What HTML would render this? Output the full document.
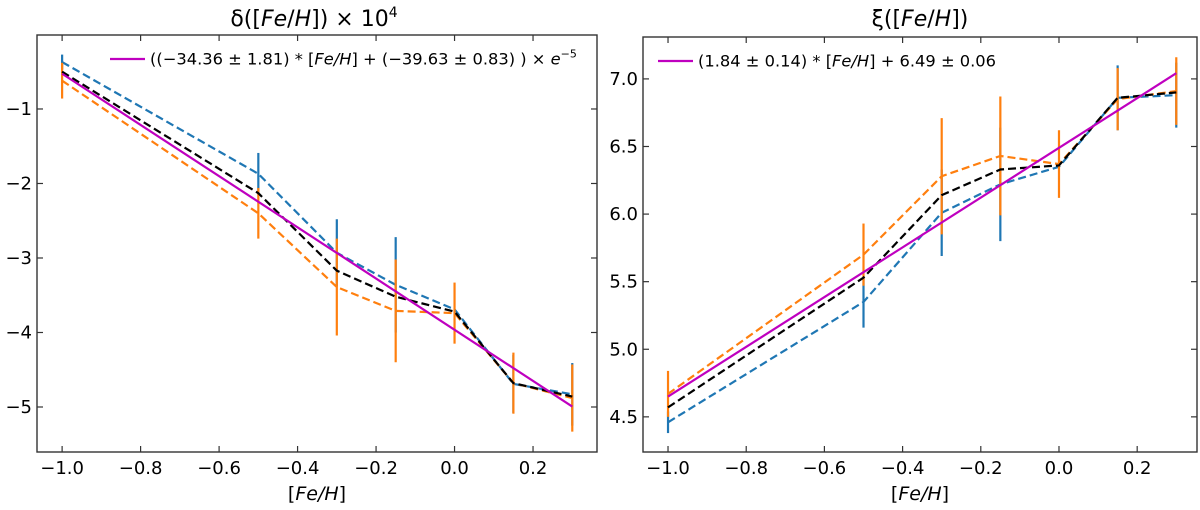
<!DOCTYPE html>
<html><head><meta charset="utf-8"><style>
html,body{margin:0;padding:0;background:#fff;}
svg text{font-family:"DejaVu Sans","Liberation Sans",sans-serif;}
</style></head><body>
<svg id="chart" width="1200" height="505" xmlns="http://www.w3.org/2000/svg"></svg>
<script>
const feh = [-1.0, -0.5, -0.3, -0.15, 0.0, 0.15, 0.3];
const xTicks = [-1.0, -0.8, -0.6, -0.4, -0.2, 0.0, 0.2];
const xTickLabels = ["\u22121.0","\u22120.8","\u22120.6","\u22120.4","\u22120.2","0.0","0.2"];
// Left panel: delta
const deltaBlue = [-0.37, -1.87, -2.93, -3.36, -3.69, -4.69, -4.83];
const deltaBlueErr = [0.10, 0.28, 0.45, 0.64, 0.0, 0.39, 0.42];
const deltaOrange = [-0.62, -2.40, -3.39, -3.71, -3.74, -4.68, -4.88];
const deltaOrangeErr = [0.24, 0.34, 0.65, 0.69, 0.41, 0.41, 0.45];
const deltaBlack = [-0.50, -2.13, -3.17, -3.52, -3.72, -4.68, -4.86];
const deltaFit = [-34.36, -39.63]; // slope, intercept (x1e-1 scale)
const deltaYTicks = [-1, -2, -3, -4, -5];
const deltaYTickLabels = ["\u22121","\u22122","\u22123","\u22124","\u22125"];
// Right panel: xi
const xiBlue = [4.46, 5.35, 6.01, 6.22, 6.35, 6.86, 6.88];
const xiBlueErr = [0.08, 0.19, 0.32, 0.42, 0.0, 0.24, 0.24];
const xiOrange = [4.67, 5.70, 6.28, 6.43, 6.37, 6.85, 6.91];
const xiOrangeErr = [0.17, 0.23, 0.43, 0.44, 0.25, 0.23, 0.25];
const xiBlack = [4.57, 5.53, 6.14, 6.33, 6.36, 6.86, 6.90];
const xiFit = [1.84, 6.49];
const xiYTicks = [4.5, 5.0, 5.5, 6.0, 6.5, 7.0];
const xiYTickLabels = ["4.5","5.0","5.5","6.0","6.5","7.0"];

const NS = "http://www.w3.org/2000/svg";
const svg = document.getElementById('chart');
function mk(tag, attrs, parent){
  const e = document.createElementNS(NS, tag);
  for (const k in attrs) e.setAttribute(k, attrs[k]);
  (parent||svg).appendChild(e);
  return e;
}
function panel(cfg){
  const g = mk('g', {});
  
  
  const sx = v => cfg.L + (v - cfg.x0) / (cfg.x1 - cfg.x0) * (cfg.R - cfg.L);
  const sy = v => cfg.B - (v - cfg.y0) / (cfg.y1 - cfg.y0) * (cfg.B - cfg.T);
  const series = (vals, color, nm, dash) => {
    const p = mk('polyline', {points: feh.map((x,i)=>sx(x)+','+sy(vals[i])).join(' '), fill:'none', stroke:color, 'stroke-width':2.2, 'stroke-dasharray':dash||'none'}, g);
    
    
  };
  const errs = (vals, err, color, nm) => {
    feh.forEach((x,i)=>{
      if (!err[i]) return;
      const l = mk('line', {x1:sx(x), x2:sx(x), y1:sy(vals[i]-err[i]), y2:sy(vals[i]+err[i]), stroke:color, 'stroke-width':2.2}, g);
      
      
    });
  };
  errs(cfg.blue, cfg.blueErr, '#1f77b4', 'error-bar-blue');
  series(cfg.blue, '#1f77b4', 'series-blue', '8,4');
  errs(cfg.orange, cfg.orangeErr, '#ff7f0e', 'error-bar-orange');
  series(cfg.orange, '#ff7f0e', 'series-orange', '8,4');
  series(cfg.black, '#000', 'series-black', '8,4');
  const fx0 = feh[0], fx1 = feh[feh.length-1];
  const fit = mk('line', {x1:sx(fx0), y1:sy(cfg.fit(fx0)), x2:sx(fx1), y2:sy(cfg.fit(fx1)), stroke:'#bf00bf', 'stroke-width':2.2}, g);
  
  
  const fr = mk('rect', {x:cfg.L, y:cfg.T, width:cfg.R-cfg.L, height:cfg.B-cfg.T, fill:'none', stroke:'#333', 'stroke-width':1.4}, g);
  
  
  xTicks.forEach((v,i)=>{
    const x = sx(v);
    mk('line',{x1:x,x2:x,y1:cfg.B,y2:cfg.B-6,stroke:'#333','stroke-width':1.2},g);
    mk('line',{x1:x,x2:x,y1:cfg.T,y2:cfg.T+6,stroke:'#333','stroke-width':1.2},g);
    const t = mk('text',{x:x,y:cfg.B+22,'text-anchor':'middle','font-size':18,fill:'#000'},g);
    t.textContent = xTickLabels[i];
    
    
  });
  cfg.yTicks.forEach((v,i)=>{
    const y = sy(v);
    mk('line',{x1:cfg.L,x2:cfg.L+6,y1:y,y2:y,stroke:'#333','stroke-width':1.2},g);
    mk('line',{x1:cfg.R,x2:cfg.R-6,y1:y,y2:y,stroke:'#333','stroke-width':1.2},g);
    const t = mk('text',{x:cfg.L-5,y:y+6,'text-anchor':'end','font-size':18,fill:'#000'},g);
    t.textContent = cfg.yLabels[i];
    
    
  });
  const xl = mk('text',{x:(cfg.L+cfg.R)/2,y:500,'text-anchor':'middle','font-size':19,fill:'#000'},g);
  xl.innerHTML = '[<tspan font-style="italic">Fe/H</tspan>]';
  
  
  const tt = mk('text',{x:cfg.titleX,y:26,'text-anchor':'middle','font-size':22,fill:'#000'},g);
  tt.innerHTML = cfg.title;
  
  
  const lg = mk('g',{},g);
  
  
  mk('line',{x1:cfg.legX,x2:cfg.legX+35,y1:cfg.legY,y2:cfg.legY,stroke:'#bf00bf','stroke-width':2.2},lg);
  const lt = mk('text',{x:cfg.legX+40,y:cfg.legY+5.5,'font-size':16.3,fill:'#000'},lg);
  lt.innerHTML = cfg.legend;
}
panel({name:'delta-panel', L:37, R:597, T:35, B:452, x0:-1.064, x1:0.363, y0:-5.604, y1:-0.007,
  blue:deltaBlue, blueErr:deltaBlueErr, orange:deltaOrange, orangeErr:deltaOrangeErr, black:deltaBlack,
  fit:x=>(deltaFit[0]*x+deltaFit[1])/10, yTicks:deltaYTicks, yLabels:deltaYTickLabels,
  titleX:314, title:'δ([<tspan font-style="italic">Fe</tspan>/<tspan font-style="italic">H</tspan>]) × 10<tspan font-size="14" dy="-9">4</tspan>',
  legX:110, legY:59,
  legend:'((−34.36 ± 1.81) * [<tspan font-style="italic">Fe/H</tspan>] + (−39.63 ± 0.83) ) × <tspan font-style="italic">e</tspan><tspan font-size="11" dy="-7">−5</tspan>'});
panel({name:'xi-panel', L:643, R:1197, T:37, B:452, x0:-1.064, x1:0.353, y0:4.24, y1:7.31,
  blue:xiBlue, blueErr:xiBlueErr, orange:xiOrange, orangeErr:xiOrangeErr, black:xiBlack,
  fit:x=>xiFit[0]*x+xiFit[1], yTicks:xiYTicks, yLabels:xiYTickLabels,
  titleX:920, title:'ξ([<tspan font-style="italic">Fe</tspan>/<tspan font-style="italic">H</tspan>])',
  legX:658, legY:61,
  legend:'(1.84 ± 0.14) * [<tspan font-style="italic">Fe/H</tspan>] + 6.49 ± 0.06'});
</script>
</body></html>
